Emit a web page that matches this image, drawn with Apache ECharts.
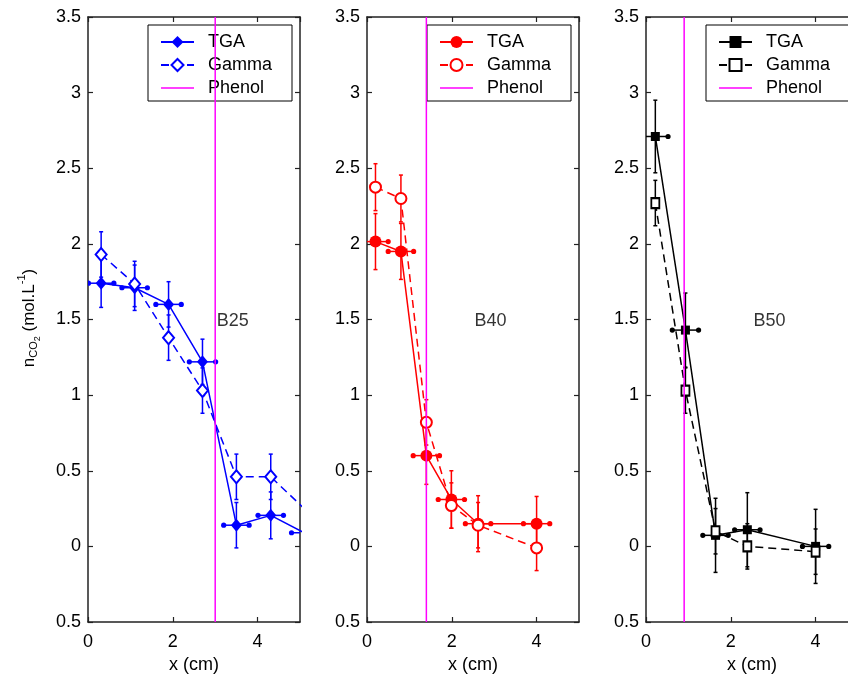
<!DOCTYPE html>
<html><head><meta charset="utf-8">
<script src="https://cdn.jsdelivr.net/npm/echarts@6/dist/echarts.min.js"></script>
<style>html,body{margin:0;padding:0;background:#fff}#c{width:848px;height:674px}</style>
</head><body><div id="c"></div>
<script>
// ---- data ----
const panelNames = ['B25', 'B40', 'B50'];
const legendNames = ['TGA', 'Gamma', 'Phenol'];
const xTickValues = [0, 2, 4];
const yTickValues = [-0.5, 0, 0.5, 1, 1.5, 2, 2.5, 3, 3.5];

// B25
const b25TgaX = [0.31, 1.10, 1.90, 2.70, 3.50, 4.31, 5.10];
const b25TgaY = [1.74, 1.71, 1.60, 1.22, 0.14, 0.205, 0.09];
const b25TgaYErr = [0.16, 0.15, 0.15, 0.15, 0.15, 0.155, 0.15];
const b25TgaXErr = [0.30, 0.30, 0.30, 0.31, 0.30, 0.30, 0.30];
const b25GammaX = [0.31, 1.10, 1.90, 2.70, 3.50, 4.31, 5.10];
const b25GammaY = [1.93, 1.735, 1.38, 1.03, 0.46, 0.46, 0.25];
const b25GammaYErr = [0.15, 0.15, 0.15, 0.15, 0.15, 0.15, 0.15];
const b25Phenol = 3.0;

// B40
const b40TgaX = [0.20, 0.80, 1.40, 1.99, 2.62, 4.00];
const b40TgaY = [2.015, 1.95, 0.60, 0.31, 0.15, 0.15];
const b40TgaYErr = [0.185, 0.185, 0.19, 0.19, 0.185, 0.18];
const b40TgaXErr = [0.30, 0.30, 0.31, 0.31, 0.30, 0.31];
const b40GammaX = [0.20, 0.80, 1.40, 1.99, 2.62, 4.00];
const b40GammaY = [2.375, 2.30, 0.82, 0.27, 0.14, -0.01];
const b40GammaYErr = [0.155, 0.155, 0.15, 0.15, 0.15, 0.15];
const b40Phenol = 1.40;

// B50
const b50TgaX = [0.22, 0.93, 1.64, 2.39, 4.00];
const b50TgaY = [2.71, 1.43, 0.073, 0.11, 0.00];
const b50TgaYErr = [0.24, 0.245, 0.245, 0.245, 0.245];
const b50TgaXErr = [0.30, 0.31, 0.30, 0.30, 0.31];
const b50GammaX = [0.22, 0.93, 1.64, 2.39, 4.00];
const b50GammaY = [2.27, 1.03, 0.10, 0.00, -0.035];
const b50GammaYErr = [0.15, 0.15, 0.15, 0.15, 0.15];
const b50Phenol = 0.90;

// panel label anchors (data coords)
const panelLabelX = [3.0, 2.5, 2.5];
const panelLabelY = [1.49, 1.49, 1.49];

// ---- build ----
const FONT = 'Liberation Sans, Arial, Helvetica, sans-serif';
const FS = 18;
const panels = [
  {tx: b25TgaX, ty: b25TgaY, tey: b25TgaYErr, tex: b25TgaXErr, gx: b25GammaX, gy: b25GammaY, gey: b25GammaYErr, ph: b25Phenol,
   color: '#0000ff', tSym: 'diamond', tSize: [11, 13], gSym: 'emptyDiamond', gSize: [11, 13], left: 88, legLeft: 148},
  {tx: b40TgaX, ty: b40TgaY, tey: b40TgaYErr, tex: b40TgaXErr, gx: b40GammaX, gy: b40GammaY, gey: b40GammaYErr, ph: b40Phenol,
   color: '#ff0000', tSym: 'circle', tSize: 12, gSym: 'emptyCircle', gSize: 11, left: 367, legLeft: 427},
  {tx: b50TgaX, ty: b50TgaY, tey: b50TgaYErr, tex: b50TgaXErr, gx: b50GammaX, gy: b50GammaY, gey: b50GammaYErr, ph: b50Phenol,
   color: '#000000', tSym: 'rect', tSize: 9, gSym: 'emptyRect', gSize: [8, 10], left: 646, legLeft: 706}
];

function errRender(color) {
  return function (params, api) {
    const x = api.value(0), y = api.value(1), ey = api.value(2), ex = api.value(3);
    const c = api.coord([x, y]);
    const t = api.coord([x, y + ey]);
    const b = api.coord([x, y - ey]);
    const style = {stroke: color, lineWidth: 1.5};
    const ch = [
      {type: 'line', shape: {x1: c[0], y1: t[1], x2: c[0], y2: b[1]}, style: style},
      {type: 'line', shape: {x1: c[0] - 2, y1: t[1], x2: c[0] + 2, y2: t[1]}, style: style},
      {type: 'line', shape: {x1: c[0] - 2, y1: b[1], x2: c[0] + 2, y2: b[1]}, style: style}
    ];
    if (ex > 0) {
      const l = api.coord([x - ex, y]), r = api.coord([x + ex, y]);
      ch.push({type: 'line', shape: {x1: l[0], y1: c[1], x2: r[0], y2: c[1]}, style: style});
      ch.push({type: 'circle', shape: {cx: l[0], cy: c[1], r: 2.6}, style: {fill: color}});
      ch.push({type: 'circle', shape: {cx: r[0], cy: c[1], r: 2.6}, style: {fill: color}});
    }
    return {type: 'group', children: ch};
  };
}

const grids = [], xAxes = [], yAxes = [], series = [], legends = [];
const axisLine = {show: true, onZero: false, lineStyle: {color: '#222', width: 1.5}};
const tickIn = {show: true, inside: true, length: 5, lineStyle: {color: '#222', width: 1.2}};
const labelStyle = {color: '#000', fontSize: FS, fontFamily: FONT};

panels.forEach(function (p, i) {
  grids.push({left: p.left, top: 17, width: 212, height: 605, containLabel: false, outerBoundsMode: 'none'});
  const xBase = {type: 'value', gridIndex: i, min: 0, max: 5, interval: 2, splitLine: {show: false}, axisLine: axisLine, axisTick: tickIn};
  xAxes.push(Object.assign({}, xBase, {position: 'bottom',
    axisLabel: Object.assign({margin: 11, showMaxLabel: false, formatter: function (v) { return xTickValues.indexOf(v) >= 0 ? String(v) : ''; }}, labelStyle),
    name: 'x (cm)', nameLocation: 'middle', nameGap: 34, nameTextStyle: labelStyle}));
  xAxes.push(Object.assign({}, xBase, {position: 'top', axisLabel: {show: false}}));
  const yBase = {type: 'value', gridIndex: i, min: -0.5, max: 3.5, interval: 0.5, splitLine: {show: false}, axisLine: axisLine, axisTick: tickIn};
  yAxes.push(Object.assign({}, yBase, {position: 'left',
    axisLabel: Object.assign({margin: 7, padding: [3, 0, 0, 0], formatter: function (v) { return yTickValues.indexOf(v) >= 0 ? (v < 0 ? String(-v) : String(v)) : ''; }}, labelStyle)}));
  yAxes.push(Object.assign({}, yBase, {position: 'right', axisLabel: {show: false}}));

  const xi = 2 * i, yi = 2 * i;
  const tgaName = 'TGA#' + i, gamName = 'Gamma#' + i, phName = 'Phenol#' + i;

  // error bars
  series.push({type: 'custom', xAxisIndex: xi, yAxisIndex: yi, clip: true, z: 1, silent: true,
    renderItem: errRender(p.color), encode: {x: 0, y: 1},
    data: p.tx.map(function (x, k) { return [x, p.ty[k], p.tey[k], p.tex[k]]; })});
  series.push({type: 'custom', xAxisIndex: xi, yAxisIndex: yi, clip: true, z: 1, silent: true,
    renderItem: errRender(p.color), encode: {x: 0, y: 1},
    data: p.gx.map(function (x, k) { return [x, p.gy[k], p.gey[k], 0]; })});

  series.push({name: tgaName, type: 'line', xAxisIndex: xi, yAxisIndex: yi, z: 3,
    data: p.tx.map(function (x, k) { return [x, p.ty[k]]; }),
    symbol: p.tSym, symbolSize: p.tSize, showSymbol: true, showAllSymbol: true,
    itemStyle: {color: p.color}, lineStyle: {color: p.color, width: 1.5}, clip: true});
  series.push({name: gamName, type: 'line', xAxisIndex: xi, yAxisIndex: yi, z: 3,
    data: p.gx.map(function (x, k) { return [x, p.gy[k]]; }),
    symbol: p.gSym, symbolSize: p.gSize, showSymbol: true, showAllSymbol: true,
    itemStyle: {color: p.color, borderWidth: 1.5}, lineStyle: {color: p.color, width: 1.5, type: [8, 5]}, clip: true});
  series.push({name: phName, type: 'line', xAxisIndex: xi, yAxisIndex: yi, z: 5,
    data: [[p.ph, -0.5], [p.ph, 3.5]], symbol: 'none',
    itemStyle: {color: '#ff00ff'}, lineStyle: {color: '#ff00ff', width: 1.5}});
  series.push({type: 'scatter', xAxisIndex: xi, yAxisIndex: yi, z: 4, silent: true,
    data: [[panelLabelX[i], panelLabelY[i]]], symbolSize: 1, itemStyle: {color: 'rgba(0,0,0,0)'},
    label: {show: true, position: 'right', distance: 1, formatter: panelNames[i], color: '#000', fontSize: FS, fontFamily: FONT}});

  legends.push({orient: 'vertical', left: p.legLeft, top: 25,
    data: [tgaName, gamName, {name: phName, icon: 'path://M0,0 H40 V2 H0 Z'}],
    formatter: function (n) { return n.split('#')[0]; },
    backgroundColor: '#fff', borderColor: '#000', borderWidth: 1, borderRadius: 0,
    padding: [8, 20, 4, 12], itemGap: 5, itemWidth: 33, itemHeight: 15, selectedMode: false,
    textStyle: {color: '#000', fontSize: FS, fontFamily: FONT, padding: [0, 0, 0, 9]}});
});

// y-axis title built from tokens (rotated)
const ctx = document.createElement('canvas').getContext('2d');
function tw(s, fs) { ctx.font = fs + 'px ' + FONT; return ctx.measureText(s).width; }
const yTitleTokens = [
  {t: 'n', fs: 17, dy: 0},
  {t: 'CO', fs: 11, dy: 5},
  {t: '2', fs: 9, dy: 9},
  {t: ' (mol.L', fs: 17, dy: 0},
  {t: '-1', fs: 11, dy: -7},
  {t: ')', fs: 17, dy: 0}
];
let cx = 0;
const yTitleChildren = yTitleTokens.map(function (tk) {
  const el = {type: 'text', x: cx, y: tk.dy, style: {text: tk.t, fontSize: tk.fs, fontFamily: FONT, fill: '#000', align: 'left', verticalAlign: 'middle'}};
  cx += tw(tk.t, tk.fs);
  return el;
});
const yTitleLen = cx;

const chart = echarts.init(document.getElementById('c'), null, {renderer: 'canvas'});
chart.setOption({
  animation: false,
  backgroundColor: '#fff',
  grid: grids, xAxis: xAxes, yAxis: yAxes, series: series, legend: legends,
  graphic: [{type: 'group', x: 29, y: 318 + yTitleLen / 2, rotation: Math.PI / 2, children: yTitleChildren}]
});
</script></body></html>
